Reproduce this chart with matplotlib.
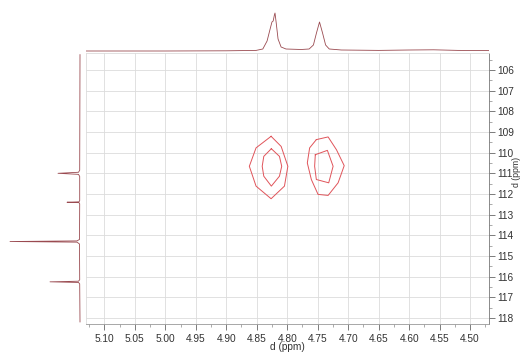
import numpy as np
import matplotlib.pyplot as plt
from matplotlib.ticker import MultipleLocator

plt.rcParams['font.family'] = ['Liberation Sans', 'DejaVu Sans']

# 1H projection (top): chemical shift (ppm) and intensity
h_ppm = [5.13, 5.00, 4.90, 4.851, 4.840, 4.833, 4.828, 4.825, 4.823, 4.821, 4.820,
         4.818, 4.815, 4.810, 4.802, 4.777, 4.764, 4.757, 4.752, 4.747, 4.742,
         4.737, 4.731, 4.711, 4.65, 4.60, 4.56, 4.52, 4.469]
h_int = [0.0, 0.0, 0.2, 0.6, 2.0, 10.0, 22.0, 29.0, 30.0, 36.0, 38.0,
         28.0, 12.0, 4.0, 2.0, 1.5, 2.0, 6.0, 18.0, 29.0, 18.0,
         6.0, 2.0, 1.0, 0.6, 1.0, 1.2, 0.6, 0.4]

# 13C projection (left): chemical shift (ppm) and intensity
c_ppm = [105.26, 110.85, 110.95, 111.0, 111.05, 111.15, 112.32, 112.38, 112.4,
         112.42, 112.48, 114.2, 114.27, 114.3, 114.33, 114.42, 116.15, 116.22,
         116.25, 116.28, 116.35, 118.19]
c_int = [0.0, 0.3, 1.5, 22.0, 1.5, 0.3, 0.3, 1.0, 13.0,
         1.0, 0.3, 0.5, 3.0, 70.0, 3.0, 0.5, 0.3, 1.5,
         30.0, 1.5, 0.3, 0.0]

# HSQC cross-peak contours (x = 1H ppm, y = 13C ppm)
c1_outer_x = [4.8264, 4.8099, 4.7989, 4.8045, 4.8264, 4.8511, 4.8621, 4.8511, 4.8264]
c1_outer_y = [109.21, 109.70, 110.66, 111.62, 112.23, 111.62, 110.66, 109.77, 109.21]
c1_inner_x = [4.826, 4.8127, 4.809, 4.8127, 4.826, 4.8384, 4.841, 4.8384, 4.826]
c1_inner_y = [109.81, 110.18, 110.66, 111.14, 111.62, 111.14, 110.66, 110.18, 109.81]
c2_outer_x = [4.7522, 4.7329, 4.7192, 4.7065, 4.7165, 4.7329, 4.7494, 4.7604, 4.7670, 4.7632, 4.7522]
c2_outer_y = [109.37, 109.24, 109.86, 110.63, 111.46, 112.07, 112.02, 111.30, 110.50, 109.77, 109.37]
c2_inner_x = [4.7539, 4.7341, 4.7247, 4.7319, 4.7522, 4.7550, 4.7539]
c2_inner_y = [110.10, 109.89, 110.66, 111.46, 111.30, 110.66, 110.10]

x_ticks = [5.10, 5.05, 5.00, 4.95, 4.90, 4.85, 4.80, 4.75, 4.70, 4.65, 4.60, 4.55, 4.50]
y_ticks = list(range(106, 119))

spec_col = '#9a4a50'
cont_col = '#e0545a'
grid_col = '#dcdcdc'
text_col = '#333333'

fig = plt.figure(figsize=(5.2, 3.52), dpi=100)
W, H = 520.0, 352.0
ax = fig.add_axes([86 / W, 1 - 324 / H, (489 - 86) / W, (324 - 53) / H])
ax_top = fig.add_axes([86 / W, 1 - 53 / H, (489 - 86) / W, 48 / H], sharex=ax)
ax_left = fig.add_axes([0, 1 - 324 / H, 86 / W, (324 - 53) / H], sharey=ax)

# main 2D panel
for xs, ys in [(c1_outer_x, c1_outer_y), (c1_inner_x, c1_inner_y),
               (c2_outer_x, c2_outer_y), (c2_inner_x, c2_inner_y)]:
    ax.plot(xs, ys, color=cont_col, lw=0.7)

ax.set_xlim(5.13, 4.469)
ax.set_ylim(118.29, 105.18)
ax.set_xticks(x_ticks)
ax.set_xticklabels(['%.2f' % v for v in x_ticks])
ax.xaxis.set_minor_locator(MultipleLocator(0.025))
ax.set_yticks(y_ticks)
ax.yaxis.set_minor_locator(MultipleLocator(0.5))
ax.yaxis.tick_right()
ax.grid(True, which='major', color=grid_col, lw=0.6)
ax.tick_params(which='major', direction='out', length=4, width=0.6, color='#666666',
               labelsize=7.3, labelcolor=text_col, pad=2)
ax.tick_params(which='minor', direction='out', length=2, width=0.5, color='#888888')
ax.tick_params(axis='x', which='major', pad=3)
for side in ['left', 'top']:
    ax.spines[side].set_color(grid_col)
    ax.spines[side].set_linewidth(0.6)
ax.spines['bottom'].set_color('#999999')
ax.spines['bottom'].set_linewidth(0.6)
ax.spines['right'].set_color('#777777')
ax.spines['right'].set_linewidth(0.6)
ax.set_xlabel('d (ppm)', fontsize=7.3, color=text_col, labelpad=-1)
fig.text(516.5 / W, 1 - 172 / H, 'd (ppm)', fontsize=6.3, color=text_col,
         rotation=90, ha='center', va='center')

# top projection
ax_top.plot(h_ppm, h_int, color=spec_col, lw=0.6)
ax_top.set_ylim(-2, 46)
ax_top.axis('off')

# left projection
ax_left.plot(c_int, c_ppm, color=spec_col, lw=0.6)
ax_left.set_xlim(80, -6)
ax_left.axis('off')

fig.savefig('out.png', dpi=100)
